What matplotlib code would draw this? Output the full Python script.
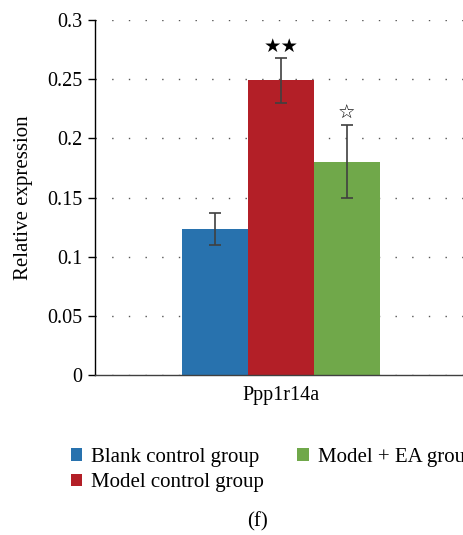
import matplotlib
matplotlib.use("Agg")
import matplotlib.pyplot as plt
from matplotlib.patches import Patch
import numpy as np

# data
groups = ["Blank control group", "Model control group", "Model + EA group"]
values = [0.123, 0.249, 0.180]
err_low = [0.110, 0.230, 0.150]
err_high = [0.137, 0.268, 0.211]
marks = ["", "★★", "☆"]
colors = ["#2872ae", "#b31f27", "#70a84a"]
gene = "Ppp1r14a"

plt.rcParams['font.family'] = ['Liberation Serif', 'DejaVu Sans']

fig = plt.figure(figsize=(4.64, 5.35), dpi=100)
ax = fig.add_axes([0.2047, 0.299, 0.8018, 0.6636])

x = np.array([-1, 0, 1])
vals = np.array(values)
yerr = [vals - np.array(err_low), np.array(err_high) - vals]

ax.bar(x, vals, width=1.0, color=colors, zorder=2)
ax.errorbar(x, vals, yerr=yerr, fmt='none', ecolor='#404040', elinewidth=1.2,
            capsize=4, capthick=1.2, zorder=3)

for xi, top, m in zip(x, err_high, marks):
    if m:
        ax.text(xi, top + 0.002, m, ha='center', va='bottom', fontsize=14,
                family=['DejaVu Sans'], color='black')

ax.set_xlim(-2.82, 2.82)
ax.set_ylim(0, 0.3)
ax.set_yticks([0, 0.05, 0.1, 0.15, 0.2, 0.25, 0.3])
ax.set_yticklabels(['0', '0.05', '0.1', '0.15', '0.2', '0.25', '0.3'], fontsize=14.5)
ax.set_xticks([0])
ax.set_xticklabels([gene], fontsize=14.5)
ax.tick_params(axis='x', length=0, pad=8)
ax.tick_params(axis='y', length=5, width=1, direction='out', pad=4)
ax.yaxis.grid(True, linestyle=(0, (1, 11)), color='#555555', linewidth=1.0, zorder=0)
ax.set_axisbelow(True)
for s in ['top', 'right']:
    ax.spines[s].set_visible(False)
ax.spines['left'].set_linewidth(1.0)
ax.spines['bottom'].set_linewidth(1.0)
ax.spines['bottom'].set_color('#404040')
ax.set_ylabel("Relative expression", fontsize=15, labelpad=10)

handles = [Patch(facecolor=c, edgecolor='none') for c in colors]
fig.legend(handles, groups, ncol=2, loc='upper left', bbox_to_anchor=(0.135, 0.178),
           frameon=False, fontsize=15, handlelength=0.55, handleheight=0.55,
           handletextpad=0.42, columnspacing=1.6, labelspacing=0.3, borderaxespad=0)

fig.text(0.554, 0.0243, "(f)", ha='center', va='center', fontsize=15)

fig.savefig("out.png", dpi=100)
